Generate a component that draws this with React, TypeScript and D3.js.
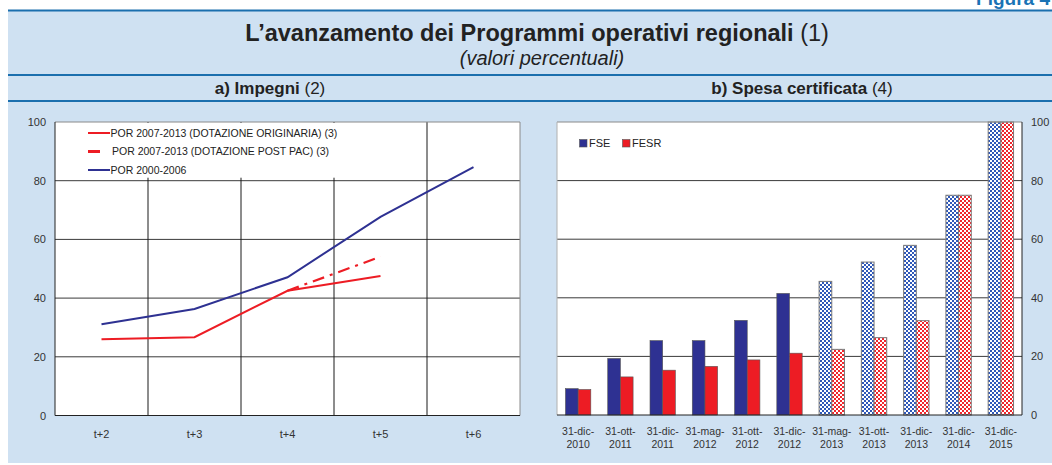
import React from 'react';
import * as d3 from 'd3';

// ---- Data: panel a) Impegni ----
const lineCats = ['t+2', 't+3', 't+4', 't+5', 't+6'];
const porOriginaria: (number | null)[] = [26.0, 26.7, 42.5, 47.5, null];
const porPostPac: (number | null)[] = [null, null, 42.5, 54.1, null];
const por2000: (number | null)[] = [31.1, 36.3, 47.1, 67.7, 84.6];
const lineLegend = [
  'POR 2007-2013 (DOTAZIONE ORIGINARIA) (3)',
  'POR 2007-2013 (DOTAZIONE POST PAC) (3)',
  'POR 2000-2006',
];

// ---- Data: panel b) Spesa certificata ----
const barCatsLine1 = ['31-dic-', '31-ott-', '31-dic-', '31-mag-', '31-ott-', '31-dic-', '31-mag-', '31-ott-', '31-dic-', '31-dic-', '31-dic-'];
const barCatsLine2 = ['2010', '2011', '2011', '2012', '2012', '2012', '2013', '2013', '2013', '2014', '2015'];
const fse = [9.0, 19.3, 25.4, 25.4, 32.3, 41.5, 45.6, 52.2, 57.9, 75, 100];
const fesr = [8.7, 13.0, 15.3, 16.6, 18.8, 21.1, 22.4, 26.4, 32.2, 75, 100];
const isTarget = [false, false, false, false, false, false, true, true, true, true, true];
const barLegend = ['FSE', 'FESR'];

const yTicks = [0, 20, 40, 60, 80, 100];

const FONT = "'Liberation Sans', Arial, Helvetica, sans-serif";
const BG = '#cfe1f2';
const RULE = '#1b6fae';
const RED = '#ed1c24';
const BLUE = '#2e3192';

export default function App() {
  // Left chart
  const L = { x0: 55, x1: 520, y0: 122, y1: 415.5 };
  const xl = d3.scalePoint<string>().domain(lineCats).range([L.x0, L.x1]).padding(0.5);
  const stepL = xl.step();
  const yl = d3.scaleLinear().domain([0, 100]).range([L.y1, L.y0]);
  const mkLine = (vals: (number | null)[]) =>
    d3.line<number | null>()
      .defined((d) => d != null)
      .x((_, i) => xl(lineCats[i]) as number)
      .y((d) => yl(d as number))(vals) as string;

  // Right chart
  const R = { x0: 557, x1: 1022, y0: 122, y1: 415 };
  const cats = barCatsLine2.map((d, i) => barCatsLine1[i] + d + '_' + i);
  const xb = d3.scaleBand<string>().domain(cats).range([R.x0, R.x1]).paddingInner(0.4).paddingOuter(0.2);
  const xs = d3.scaleBand<string>().domain(['FSE', 'FESR']).range([0, xb.bandwidth()]);
  const yr = d3.scaleLinear().domain([0, 100]).range([R.y1, R.y0]);

  return (
    <svg width={1052} height={465} style={{ position: 'absolute', left: 0, top: 0 }} fontFamily={FONT}>
      <defs>
        <pattern id="chkBlue" width={4} height={4} patternUnits="userSpaceOnUse">
          <rect width={4} height={4} fill="#ffffff" />
          <rect x={0} y={0} width={2} height={2} fill="#2f58b8" />
          <rect x={2} y={2} width={2} height={2} fill="#2f58b8" />
        </pattern>
        <pattern id="chkRed" width={4} height={4} patternUnits="userSpaceOnUse">
          <rect width={4} height={4} fill="#ffffff" />
          <rect x={0} y={0} width={2} height={2} fill="#f0262c" />
          <rect x={2} y={2} width={2} height={2} fill="#f0262c" />
        </pattern>
      </defs>

      {/* Figure label (partly cut at the top, as in the source) */}
      <text x={1050} y={5} textAnchor="end" fontSize={19} fontWeight="bold" fill="#1a73b5">Figura 4</text>

      {/* Background */}
      <rect x={8} y={10} width={1044} height={453} fill={BG} />
      <line x1={8} x2={1052} y1={10.5} y2={10.5} stroke={RULE} strokeWidth={2} />
      <line x1={8} x2={1052} y1={75} y2={75} stroke={RULE} strokeWidth={2} />
      <line x1={8} x2={1052} y1={101} y2={101} stroke={RULE} strokeWidth={2} />

      {/* Titles */}
      <text x={537} y={41} textAnchor="middle" fontSize={23.5} fill="#222">
        <tspan fontWeight="bold">L’avanzamento dei Programmi operativi regionali</tspan>
        <tspan> (1)</tspan>
      </text>
      <text x={542} y={65} textAnchor="middle" fontSize={20} fontStyle="italic" fill="#222">(valori percentuali)</text>
      <text x={270} y={94} textAnchor="middle" fontSize={17} fill="#222">
        <tspan fontWeight="bold">a) Impegni</tspan>
        <tspan> (2)</tspan>
      </text>
      <text x={802} y={94} textAnchor="middle" fontSize={17} fill="#222">
        <tspan fontWeight="bold">b) Spesa certificata</tspan>
        <tspan> (4)</tspan>
      </text>

      {/* ===== Left chart ===== */}
      <rect x={L.x0} y={L.y0} width={L.x1 - L.x0} height={L.y1 - L.y0} fill="#fff" />
      {yTicks.filter((t) => t > 0 && t < 100).map((t) => (
        <line key={'hl' + t} x1={L.x0} x2={L.x1} y1={yl(t)} y2={yl(t)} stroke="#3a3a3a" strokeWidth={1} />
      ))}
      {lineCats.slice(0, -1).map((c, i) => {
        const x = (xl(c) as number) + stepL / 2;
        return <line key={'vl' + i} x1={x} x2={x} y1={L.y0} y2={L.y1} stroke="#1a1a1a" strokeWidth={1} />;
      })}
      {/* legend box (covers upper gridlines) */}
      <rect x={L.x0 + 1} y={L.y0 + 1} width={(xl('t+6') as number) - stepL / 2 - L.x0 - 2} height={yl(80) - L.y0 - 4} fill="#fff" />
      {/* border */}
      <line x1={L.x0} x2={L.x1} y1={L.y0} y2={L.y0} stroke="#8a8a8a" />
      <line x1={L.x1} x2={L.x1} y1={L.y0} y2={L.y1} stroke="#8a8a8a" />
      <line x1={L.x0} x2={L.x0} y1={L.y0} y2={L.y1} stroke="#222" />
      <line x1={L.x0} x2={L.x1} y1={L.y1} y2={L.y1} stroke="#222" />
      {yTicks.map((t) => (
        <text key={'yl' + t} x={46} y={yl(t) + 4} textAnchor="end" fontSize={11} fill="#333">{t}</text>
      ))}
      {lineCats.map((c) => (
        <text key={'xl' + c} x={xl(c) as number} y={438} textAnchor="middle" fontSize={11} fill="#333">{c}</text>
      ))}
      <path d={mkLine(por2000)} fill="none" stroke={BLUE} strokeWidth={2} />
      <path d={mkLine(porOriginaria)} fill="none" stroke={RED} strokeWidth={2} />
      <path d={mkLine(porPostPac)} fill="none" stroke={RED} strokeWidth={2.2} strokeDasharray="12,6,3,6" />
      {/* legend */}
      {lineLegend.map((lab, i) => {
        const y = 133 + i * 18.5;
        return (
          <g key={'lg' + i}>
            {i === 0 && <line x1={88} x2={110} y1={y} y2={y} stroke={RED} strokeWidth={2} />}
            {i === 1 && <line x1={88} x2={100} y1={y} y2={y} stroke={RED} strokeWidth={3} />}
            {i === 2 && <line x1={88} x2={110} y1={y} y2={y} stroke={BLUE} strokeWidth={2} />}
            <text x={i === 1 ? 112 : 110.5} y={y + 3.5} fontSize={10.5} fill="#222">{lab}</text>
          </g>
        );
      })}

      {/* ===== Right chart ===== */}
      <rect x={R.x0} y={R.y0} width={R.x1 - R.x0} height={R.y1 - R.y0} fill="#fff" />
      {yTicks.filter((t) => t > 0 && t < 100).map((t) => (
        <line key={'hr' + t} x1={R.x0} x2={R.x1} y1={yr(t)} y2={yr(t)} stroke="#3a3a3a" strokeWidth={1} />
      ))}
      {cats.map((c, i) => {
        const x0 = xb(c) as number;
        const tgt = isTarget[i];
        const vals = [fse[i], fesr[i]];
        return (
          <g key={'bar' + i}>
            {vals.map((v, j) => {
              const key = barLegend[j];
              const x = x0 + (xs(key) as number);
              const w = xs.bandwidth();
              const fill = tgt ? (j === 0 ? 'url(#chkBlue)' : 'url(#chkRed)') : (j === 0 ? BLUE : RED);
              return (
                <rect key={key} x={x} y={yr(v)} width={w} height={R.y1 - yr(v)} fill={fill}
                  stroke={tgt ? '#7a7a7a' : '#555'} strokeWidth={tgt ? 1 : 0.6} />
              );
            })}
          </g>
        );
      })}
      <line x1={R.x0} x2={R.x1} y1={R.y0} y2={R.y0} stroke="#8a8a8a" />
      <line x1={R.x0} x2={R.x0} y1={R.y0} y2={R.y1} stroke="#b0b0b0" />
      <line x1={R.x1} x2={R.x1} y1={R.y0} y2={R.y1} stroke="#222" />
      <line x1={R.x0} x2={R.x1} y1={R.y1} y2={R.y1} stroke="#222" />
      {yTicks.map((t) => (
        <text key={'yr' + t} x={1031} y={yr(t) + 4} textAnchor="start" fontSize={11} fill="#333">{t}</text>
      ))}
      {cats.map((c, i) => {
        const x = (xb(c) as number) + xb.bandwidth() / 2;
        return (
          <text key={'xr' + i} x={x} textAnchor="middle" fontSize={10.5} fill="#333">
            <tspan x={x} y={435}>{barCatsLine1[i]}</tspan>
            <tspan x={x} y={448}>{barCatsLine2[i]}</tspan>
          </text>
        );
      })}
      {/* bar legend */}
      <rect x={579.5} y={139.5} width={7.5} height={7.5} fill={BLUE} stroke="#555" strokeWidth={0.6} />
      <text x={589} y={147} fontSize={11} fill="#222">{barLegend[0]}</text>
      <rect x={622.5} y={139.5} width={7.5} height={7.5} fill={RED} stroke="#555" strokeWidth={0.6} />
      <text x={632} y={147} fontSize={11} fill="#222">{barLegend[1]}</text>
    </svg>
  );
}
